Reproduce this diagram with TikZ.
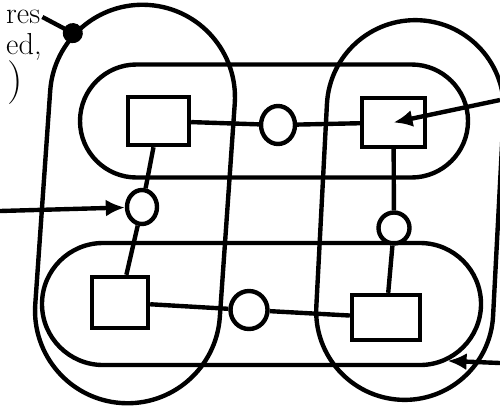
\documentclass[tikz,border=0pt]{standalone}
\usetikzlibrary{shapes.geometric,shapes.misc,arrows.meta}
\begin{document}
\begin{tikzpicture}[x=1cm,y=1cm,line width=2.5pt,
  sq/.style={draw, inner sep=0pt},
  ring/.style={draw, ellipse, inner sep=0pt},
  band/.style={draw, rounded rectangle, inner sep=0pt},
  tip/.style={-{Latex[length=3.8mm,width=3.4mm]}}]
\useasboundingbox (0,0) rectangle (10,8.16);
% the four bands
\node[band, rotate=86, minimum width=7.98cm, minimum height=3.7cm] (leftband) at (2.70,4.08) {};
\node[band, rotate=87, minimum width=7.6cm, minimum height=3.54cm] (rightband) at (8.2,3.96) {};
\node[band, minimum width=7.76cm, minimum height=2.26cm] (topband) at (5.48,5.74) {};
\node[band, minimum width=8.78cm, minimum height=2.44cm] (bottomband) at (5.23,2.08) {};
% boxes and rings
\node[sq, minimum width=1.22cm, minimum height=0.96cm] (tlsq) at (3.17,5.74) {};
\node[sq, minimum width=1.26cm, minimum height=0.98cm] (trsq) at (7.87,5.71) {};
\node[sq, minimum width=1.12cm, minimum height=1.02cm] (blsq) at (2.40,2.11) {};
\node[sq, minimum width=1.36cm, minimum height=0.90cm] (brsq) at (7.72,1.81) {};
\node[ring, minimum width=0.68cm, minimum height=0.76cm] (tcirc) at (5.56,5.66) {};
\node[ring, minimum width=0.60cm, minimum height=0.68cm] (lcirc) at (2.84,4.02) {};
\node[ring, minimum width=0.62cm, minimum height=0.62cm] (rcirc) at (7.88,3.60) {};
\node[ring, minimum width=0.74cm, minimum height=0.76cm] (bcirc) at (4.98,1.96) {};
\draw (tlsq) -- (tcirc);
\draw (tcirc) -- (trsq);
\draw (tlsq) -- (lcirc);
\draw (lcirc) -- (blsq);
\draw (trsq) -- (rcirc);
\draw (rcirc) -- (brsq);
\draw (blsq) -- (bcirc);
\draw (bcirc) -- (brsq);
% cut-off notes and pointers
\node[anchor=west, inner sep=0pt, font=\LARGE] (restxt) at (0.08,7.82) {res};
\node[anchor=west, inner sep=0pt, font=\LARGE] (edtxt) at (0.08,7.22) {ed,};
\node[anchor=west, inner sep=0pt, font=\Huge] (paren) at (0.1,6.5) {)};
\coordinate (leftin) at (0,3.94);
\coordinate (rightin) at (10,6.16);
\coordinate (lowin) at (10,0.9);
\draw[tip] (leftin) -- (lcirc);
\draw[tip] (rightin) -- (trsq.center);
\draw[tip] (lowin) -- (bottomband.-17);
\draw[-{Circle[length=4mm]}, shorten >=-2mm] (restxt.east) -- (leftband.24);
\end{tikzpicture}
\end{document}
